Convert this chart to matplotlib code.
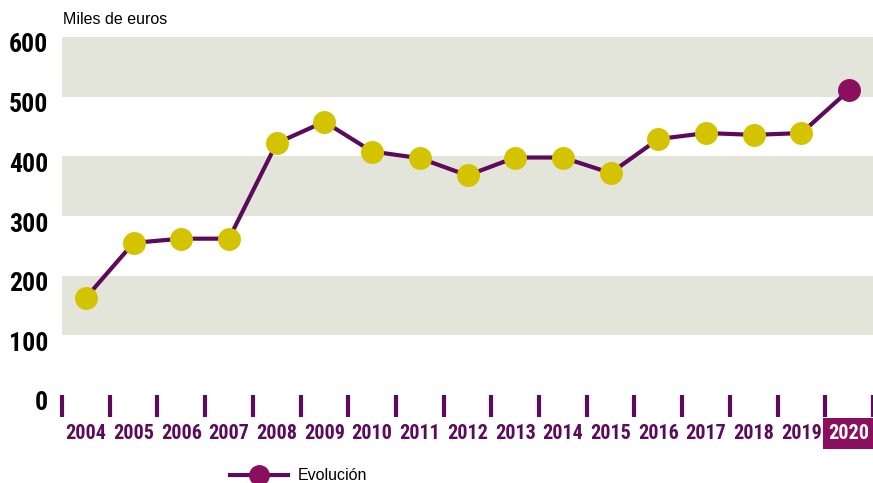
import matplotlib
matplotlib.use("Agg")
import matplotlib.pyplot as plt
import matplotlib.transforms as mtransforms
from matplotlib.lines import Line2D
from matplotlib import font_manager

years = ["2004", "2005", "2006", "2007", "2008", "2009", "2010", "2011", "2012",
         "2013", "2014", "2015", "2016", "2017", "2018", "2019", "2020"]
values = [163, 255, 262, 262, 422, 458, 408, 397, 368, 398, 398, 372, 429, 439, 436, 439, 511]
y_ticks = [0, 100, 200, 300, 400, 500, 600]
y_label = "Miles de euros"
legend_label = "Evolución"

LINE = "#5C0A5C"
MARK = "#D4C400"
LAST = "#8A0F5E"
BAND = "#E4E5DA"

names = {f.name for f in font_manager.fontManager.ttflist}
narrow_name = None
for cand in ["Liberation Sans Narrow", "Roboto Condensed", "Open Sans Condensed",
             "Noto Sans Condensed", "DejaVu Sans Condensed"]:
    if cand in names:
        narrow_name = cand
        break
if narrow_name:
    bold_fam = [narrow_name, "DejaVu Sans"]
    ysize, xsize = 18.5, 14.5
else:
    bold_fam = ["Liberation Sans", "DejaVu Sans"]
    ysize, xsize = 14.5, 12.5
regular = ["Liberation Sans", "DejaVu Sans"]

fig = plt.figure(figsize=(8.73, 4.83), dpi=100)
ax = fig.add_axes([62/873, 1-395/483, 1-62/873, (395-37)/483])
n = len(years)
xs = list(range(n))
ax.set_xlim(-0.5, n - 0.5)
ax.set_ylim(0, 600)

for lo in (100, 300, 500):
    ax.axhspan(lo, lo + 100, color=BAND, lw=0, zorder=0)

ax.plot(xs, values, color=LINE, lw=3, zorder=2, solid_joinstyle="round")
ax.plot(xs[:-1], values[:-1], "o", ms=15.5, color=MARK, mec=MARK, zorder=3, clip_on=False)
ax.plot(xs[-1:], values[-1:], "o", ms=15.5, color=LAST, mec=LAST, zorder=3, clip_on=False)

for s in ax.spines.values():
    s.set_visible(False)

# y axis
ax.set_yticks(y_ticks)
ax.set_yticklabels([str(v) for v in y_ticks], fontsize=ysize, fontweight="bold",
                   family=bold_fam, color="black")
ax.tick_params(axis="y", length=0, pad=10)
off = mtransforms.ScaledTranslation(0, -6/100, fig.dpi_scale_trans)
for lab in ax.get_yticklabels():
    lab.set_transform(lab.get_transform() + off)

# x axis: ticks at year boundaries, labels at centres
ax.set_xticks([i - 0.5 for i in range(n + 1)])
ax.set_xticklabels([])
ax.tick_params(axis="x", length=16, width=3, color=LINE, direction="out", pad=0)
for i, yr in enumerate(years):
    if i == n - 1:
        ax.text(i, -64, yr, ha="center", va="center", fontsize=xsize, fontweight="bold",
                family=bold_fam, color="white", clip_on=False,
                bbox=dict(boxstyle="square,pad=0.3", fc=LAST, ec="none"))
    else:
        ax.text(i, -64, yr, ha="center", va="center", fontsize=xsize, fontweight="bold",
                family=bold_fam, color=LINE, clip_on=False)

fig.text(63/873, 1-19/483, y_label, fontsize=11.5, family=regular, color="black",
         ha="left", va="center")

# legend
lx0, lx1, ly = 230/873, 288/873, 1-475/483
fig.add_artist(Line2D([lx0, lx1], [ly, ly], color=LINE, lw=3, transform=fig.transFigure))
fig.add_artist(Line2D([(lx0+lx1)/2], [ly], marker="o", ms=14, color=LAST, mec=LAST,
                      transform=fig.transFigure))
fig.text(298/873, ly, legend_label, fontsize=11.5, family=regular, color="black",
         ha="left", va="center")

fig.savefig("out.png", dpi=100)
